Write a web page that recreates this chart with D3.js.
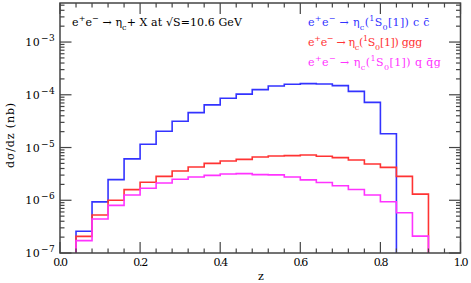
<!DOCTYPE html>
<html><head><meta charset="utf-8">
<script src="https://cdn.jsdelivr.net/npm/d3@7"></script>
<style>
html,body{margin:0;padding:0;background:#fff;}
svg{display:block;}
text{font-family:"DejaVu Serif",serif;fill:#000;}
</style></head>
<body>
<svg id="chart" width="471" height="283"></svg>
<script>
// ---- data ----
const binEdges = [0.04,0.08,0.12,0.16,0.20,0.24,0.28,0.32,0.36,0.40,0.44,0.48,0.52,0.56,0.60,0.64,0.68,0.72,0.76,0.80,0.84,0.88,0.92];
const blueVals = [2.58e-7,9.3e-7,2.46e-6,6.1e-6,1.15e-5,2.03e-5,3.14e-5,4.59e-5,6.45e-5,8.57e-5,1.03e-4,1.25e-4,1.47e-4,1.58e-4,1.63e-4,1.6e-4,1.49e-4,1.16e-4,7.19e-5,1.83e-5];
const redVals = [2.07e-7,5.25e-7,1.0e-6,1.59e-6,2.19e-6,2.84e-6,3.58e-6,4.27e-6,5.01e-6,5.55e-6,5.97e-6,6.6e-6,6.9e-6,7.02e-6,7.2e-6,6.81e-6,6.43e-6,5.8e-6,4.87e-6,4.21e-6,2.84e-6,1.31e-6];
const magVals = [1.72e-7,4.41e-7,8.0e-7,1.26e-6,1.69e-6,2.12e-6,2.5e-6,2.76e-6,2.97e-6,3.14e-6,3.2e-6,3.06e-6,3.03e-6,2.76e-6,2.44e-6,2.17e-6,1.88e-6,1.6e-6,1.26e-6,9.35e-7,5.78e-7,2.09e-7];
const xTickLabels = ["0.0","0.2","0.4","0.6","0.8","1.0"];
const yDecades = [-7,-6,-5,-4,-3];
const seriesNames = ["ccbar","ggg","qqg"];

// ---- layout ----
const svg = d3.select("#chart");
const L = 60, R = 460.5, T = 3, B = 253;
const x = d3.scaleLinear().domain([0,1]).range([L,R]);
const y = d3.scaleLog().domain([1e-7,5.5e-3]).range([B,T]);
const axisColor = "#444";

// histograms
const colors = {ccbar:"#3333ff", ggg:"#ff3333", qqg:"#ff33ff"};
const valsBy = {ccbar:blueVals, ggg:redVals, qqg:magVals};
const line = d3.line().x(d=>x(d[0])).y(d=>y(d[1]));
seriesNames.forEach(name=>{
  const vals = valsBy[name];
  const pts = [[binEdges[0],1e-7]];
  vals.forEach((v,i)=>{ pts.push([binEdges[i],v]); pts.push([binEdges[i+1],v]); });
  pts.push([binEdges[vals.length],1e-7]);
  svg.append("path").attr("d",line(pts)).attr("fill","none")
    .attr("stroke",colors[name]).attr("stroke-width",1.6);
});

// frame
svg.append("rect").attr("x",L).attr("y",T).attr("width",R-L).attr("height",B-T)
  .attr("fill","none").attr("stroke",axisColor).attr("stroke-width",1.5);

// x ticks (bottom + top)
const xMinor = d3.range(0,1.0001,0.04);
const g = svg.append("g").attr("stroke",axisColor).attr("stroke-width",1.2);
xMinor.forEach(v=>{
  const major = Math.abs(v/0.2 - Math.round(v/0.2))<1e-6;
  const len = major?11:4.5;
  g.append("line").attr("x1",x(v)).attr("x2",x(v)).attr("y1",B).attr("y2",B-len);
  g.append("line").attr("x1",x(v)).attr("x2",x(v)).attr("y1",T).attr("y2",T+len);
});
// y ticks (left + right)
const yTicks = [];
yDecades.forEach(d=>{ for(let m=1;m<=9;m++){ const v=m*Math.pow(10,d); if(v<=5.5e-3) yTicks.push([v,m===1]); } });
yTicks.forEach(([v,major])=>{
  const len = major?11.5:4.5;
  g.append("line").attr("x1",L).attr("x2",L+len).attr("y1",y(v)).attr("y2",y(v));
  g.append("line").attr("x1",R).attr("x2",R-len).attr("y1",y(v)).attr("y2",y(v));
});

function fitWidth(t, target){
  const w = t.node().getBBox().width;
  const n = t.text().length;
  t.attr("letter-spacing", ((target - w)/n).toFixed(2));
}

// x tick labels
xTickLabels.forEach(s=>{
  const t = svg.append("text").attr("x",x(+s)).attr("y",266).attr("text-anchor","middle")
    .attr("font-size",11).text(s);
  fitWidth(t, 13.5);
});
// y tick labels
yDecades.forEach(d=>{
  const t = svg.append("text").attr("x",55).attr("y",y(Math.pow(10,d))+4)
    .attr("text-anchor","end").attr("font-size",11);
  t.append("tspan").text("10");
  t.append("tspan").attr("dx",1).attr("dy",-5).attr("font-size",9).text("\u2212"+(-d));
  fitWidth(t, 30);
});

// axis titles
svg.append("text").attr("x",261).attr("y",280).attr("text-anchor","middle").attr("font-size",11).text("z");
const yl = svg.append("text").attr("transform","translate(14,135) rotate(-90)").attr("text-anchor","middle")
  .attr("font-size",11).text("d\u03c3/dz (nb)");
fitWidth(yl, 66);

// rich text helper: segments [text, shift] shift: 0 normal, 1 sup, -1 sub
function rich(xp, yp, segs, color, fs){
  const t = svg.append("text").attr("x",xp).attr("y",yp).attr("font-size",fs).style("fill",color);
  let cur = 0;
  segs.forEach(([s,sh])=>{
    const target = sh===1?-5:(sh===-1?3.5:0);
    const sp = t.append("tspan").attr("dy",target-cur).text(s);
    if(sh!==0) sp.attr("font-size",fs-3);
    cur = target;
  });
  return t;
}
const title = rich(72,26,[["e",0],["+",1],["e",0],["\u2212",1],[" \u2192 \u03b7",0],["c",-1],["+ X at \u221aS=10.6 GeV",0]],"#000",11);
fitWidth(title, 171);
const legendTail = {ccbar:" c c\u0304", ggg:" ggg", qqg:" q q\u0304g"};
const legendWidths = {ccbar:122, ggg:114, qqg:134};
seriesNames.forEach((name,i)=>{
  const t = rich(308,26+i*20,[["e",0],["+",1],["e",0],["\u2212",1],[name==="qqg"?" \u2192  \u03b7":" \u2192 \u03b7",0],["c",-1],["(",0],["1",1],["S",0],["0",-1],["[1])"+legendTail[name],0]],colors[name],11);
  fitWidth(t, legendWidths[name]);
});
</script>
</body></html>
